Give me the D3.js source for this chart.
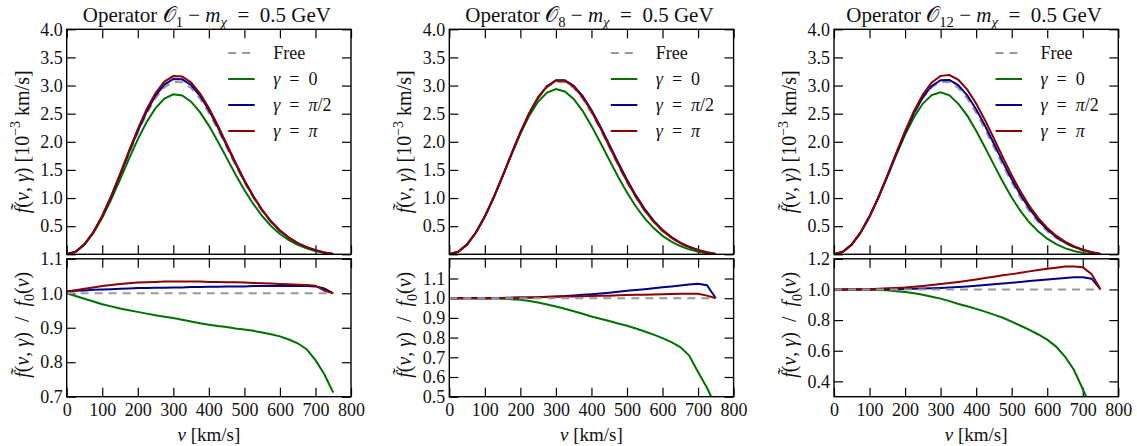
<!DOCTYPE html>
<html>
<head>
<meta charset="utf-8">
<script src="https://cdn.jsdelivr.net/npm/d3@7"></script>
<style>
body { margin: 0; background: #fff; }
</style>
</head>
<body>
<svg id="chart" width="1137" height="446"></svg>
<script>
// velocity grid (km/s)
var velocity = [0, 25, 50, 75, 100, 125, 150, 175, 200, 225, 250, 275, 300, 325, 350, 375,
  400, 425, 450, 475, 500, 525, 550, 575, 600, 625, 650, 675, 700, 725, 750];

// free distribution f0(v) in 10^-3 km/s
var fFree = [0.000, 0.044, 0.175, 0.388, 0.671, 1.011, 1.389, 1.781, 2.160, 2.500, 2.777, 2.969,
  3.065, 3.059, 2.956, 2.769, 2.517, 2.220, 1.901, 1.581, 1.278, 1.005, 0.768, 0.571, 0.412,
  0.290, 0.195, 0.125, 0.072, 0.033, 0.004];

// ratios f(v,gamma)/f0(v), operator O1
var ratioO1Gamma0 = [1.000, 0.992, 0.984, 0.976, 0.968, 0.962, 0.956, 0.951, 0.946, 0.941, 0.936,
  0.932, 0.928, 0.923, 0.918, 0.913, 0.909, 0.905, 0.902, 0.898, 0.895, 0.891, 0.886, 0.881,
  0.875, 0.866, 0.855, 0.838, 0.806, 0.765, 0.712];
var ratioO1GammaHalfPi = [1.005, 1.007, 1.008, 1.010, 1.011, 1.012, 1.013, 1.014, 1.015, 1.015,
  1.016, 1.016, 1.017, 1.017, 1.018, 1.018, 1.019, 1.019, 1.020, 1.020, 1.020, 1.021, 1.021,
  1.021, 1.021, 1.021, 1.021, 1.021, 1.020, 1.014, 1.000];
var ratioO1GammaPi = [1.005, 1.009, 1.013, 1.017, 1.021, 1.024, 1.027, 1.029, 1.031, 1.032, 1.033,
  1.034, 1.034, 1.034, 1.034, 1.034, 1.033, 1.033, 1.032, 1.032, 1.031, 1.030, 1.029, 1.028,
  1.027, 1.026, 1.025, 1.024, 1.022, 1.008, 1.000];

// operator O8
var ratioO8Gamma0 = [1.000, 1.000, 1.000, 1.000, 0.999, 0.998, 0.997, 0.995, 0.992, 0.986, 0.978,
  0.968, 0.958, 0.946, 0.934, 0.921, 0.907, 0.896, 0.884, 0.872, 0.860, 0.846, 0.831, 0.815,
  0.797, 0.777, 0.752, 0.709, 0.625, 0.545, 0.450];
var ratioO8GammaHalfPi = [1.000, 1.000, 1.000, 1.000, 1.000, 1.001, 1.001, 1.002, 1.003, 1.004,
  1.005, 1.007, 1.009, 1.011, 1.014, 1.017, 1.020, 1.024, 1.028, 1.033, 1.038, 1.042, 1.046,
  1.050, 1.055, 1.059, 1.064, 1.069, 1.073, 1.066, 1.000];
var ratioO8GammaPi = [1.000, 1.000, 1.000, 1.000, 1.000, 1.001, 1.001, 1.002, 1.003, 1.004, 1.005,
  1.006, 1.007, 1.008, 1.009, 1.010, 1.011, 1.012, 1.013, 1.015, 1.016, 1.017, 1.018, 1.019,
  1.020, 1.021, 1.022, 1.023, 1.023, 1.013, 1.000];

// operator O12
var ratioO12Gamma0 = [1.000, 1.000, 1.000, 1.000, 0.999, 0.997, 0.994, 0.989, 0.984, 0.975, 0.965,
  0.953, 0.940, 0.924, 0.905, 0.890, 0.873, 0.855, 0.836, 0.815, 0.790, 0.763, 0.736, 0.706,
  0.672, 0.627, 0.561, 0.476, 0.350, 0.220, 0.100];
var ratioO12GammaHalfPi = [1.000, 1.000, 1.000, 1.000, 1.000, 1.001, 1.002, 1.002, 1.003, 1.005,
  1.006, 1.008, 1.010, 1.013, 1.016, 1.020, 1.024, 1.029, 1.034, 1.039, 1.044, 1.049, 1.055,
  1.060, 1.065, 1.070, 1.075, 1.080, 1.080, 1.070, 1.000];
var ratioO12GammaPi = [1.000, 1.000, 1.000, 1.001, 1.002, 1.004, 1.007, 1.010, 1.013, 1.018, 1.023,
  1.029, 1.035, 1.042, 1.049, 1.057, 1.065, 1.074, 1.083, 1.092, 1.100, 1.109, 1.118, 1.127,
  1.135, 1.142, 1.149, 1.150, 1.145, 1.100, 1.000];

// ticks
var xTicks = [0, 100, 200, 300, 400, 500, 600, 700, 800];
var topTicks = [0, 0.5, 1.0, 1.5, 2.0, 2.5, 3.0, 3.5, 4.0];
var ratioTicksO1 = [0.7, 0.8, 0.9, 1.0, 1.1];
var ratioTicksO8 = [0.5, 0.6, 0.7, 0.8, 0.9, 1.0, 1.1];
var ratioTicksO12 = [0.4, 0.6, 0.8, 1.0, 1.2];

var seriesNames = ["Free", "γ = 0", "γ = π/2", "γ = π"];
var seriesColors = ["#999999", "#007000", "#00008b", "#8b0000"];

var panels = [
  {sub: "1", left: 66.7, ratios: [ratioO1Gamma0, ratioO1GammaHalfPi, ratioO1GammaPi], yDom: [0.7, 1.1], yTicks: ratioTicksO1},
  {sub: "8", left: 449.3, ratios: [ratioO8Gamma0, ratioO8GammaHalfPi, ratioO8GammaPi], yDom: [0.5, 1.2], yTicks: ratioTicksO8},
  {sub: "12", left: 834, ratios: [ratioO12Gamma0, ratioO12GammaHalfPi, ratioO12GammaPi], yDom: [0.3, 1.2], yTicks: ratioTicksO12}
];

var FONT = "Liberation Serif";
var EQ = "\u2002=\u2002";   // wide math spacing round "="
var DASH = "8,6";
var svg = d3.select("#chart"),
    pw = 284.3,
    topY0 = 29.3, topY1 = 254.3,
    botY0 = 258.8, botY1 = 396.7,
    tick = 9;

function label(sel, size) {
  return sel.append("text").style("font-family", FONT).style("font-size", size + "px").attr("fill", "#111");
}

// write math-ish text as tspans
function rich(text, parts, size) {
  var shift = 0;
  parts.forEach(function(p) {
    var target = p.sub ? 0.28 * size : (p.sup ? -0.42 * size : 0);
    var ts = text.append("tspan").text(p.t).attr("dy", target - shift);
    shift = target;
    if (p.sub || p.sup) ts.style("font-size", (size * 0.7) + "px");
    if (p.i) ts.style("font-style", "italic");
  });
}

function legendParts(name) {
  if (name === "Free") return [{t: "Free"}];
  var rest = name.split(" = ")[1];
  if (rest === "π") return [{t: "γ", i: true}, {t: EQ}, {t: "π", i: true}];
  if (rest === "π/2") return [{t: "γ", i: true}, {t: EQ}, {t: "π", i: true}, {t: "/2"}];
  return [{t: "γ", i: true}, {t: EQ + rest}];
}

function frame(g, x, y, h, yTickVals, fmt, showX, id) {
  g.append("clipPath").attr("id", id)
    .append("rect").attr("width", pw).attr("height", h);
  // inward ticks on all four sides
  g.append("g").attr("class", "ax").call(d3.axisLeft(y).tickValues(yTickVals).tickSizeInner(-tick).tickSizeOuter(0).tickPadding(4).tickFormat(fmt));
  g.append("g").attr("class", "ax").attr("transform", "translate(" + pw + ",0)")
    .call(d3.axisRight(y).tickValues(yTickVals).tickSizeInner(-tick).tickSizeOuter(0).tickFormat(""));
  g.append("g").attr("class", "ax")
    .call(d3.axisTop(x).tickValues(xTicks).tickSizeInner(-tick).tickSizeOuter(0).tickFormat(""));
  g.append("g").attr("class", "ax").attr("transform", "translate(0," + h + ")")
    .call(d3.axisBottom(x).tickValues(xTicks).tickSizeInner(-tick).tickSizeOuter(0).tickPadding(7)
      .tickFormat(showX ? d3.format("d") : ""));
}

panels.forEach(function(p, k) {
  var x = d3.scaleLinear().domain([0, 800]).range([0, pw]);
  var yTop = d3.scaleLinear().domain([0, 4]).range([topY1 - topY0, 0]);
  var yBot = d3.scaleLinear().domain(p.yDom).range([botY1 - botY0, 0]);

  // table of rows built from the arrays (curve = f0 * ratio, free ratio = 1)
  var rows = velocity.map(function(v, i) {
    return {
      v: v,
      f: [fFree[i], fFree[i] * p.ratios[0][i], fFree[i] * p.ratios[1][i], fFree[i] * p.ratios[2][i]],
      r: [1, p.ratios[0][i], p.ratios[1][i], p.ratios[2][i]]
    };
  });

  // top axes
  var gt = svg.append("g").attr("transform", "translate(" + p.left + "," + topY0 + ")");
  frame(gt, x, yTop, topY1 - topY0, topTicks, function(d) { return d === 0 ? "" : d3.format(".1f")(d); }, false, "ct" + k);
  var lineTop = function(s) {
    return d3.line().x(function(d) { return x(d.v); }).y(function(d) { return yTop(d.f[s]); });
  };
  [0, 1, 2, 3].forEach(function(s) {
    gt.append("path").datum(rows)
      .attr("clip-path", "url(#ct" + k + ")")
      .attr("d", lineTop(s))
      .attr("fill", "none")
      .attr("stroke", seriesColors[s])
      .attr("stroke-width", 2)
      .attr("stroke-dasharray", s === 0 ? DASH : null);
  });

  // legend
  seriesNames.forEach(function(name, s) {
    var ly = 53 + s * 26 - topY0;
    gt.append("line").attr("x1", 161.5).attr("x2", 188).attr("y1", ly).attr("y2", ly)
      .attr("stroke", seriesColors[s]).attr("stroke-width", 2)
      .attr("stroke-dasharray", s === 0 ? DASH : null);
    var t = label(gt, 18).attr("x", 206.5).attr("y", ly + 6);
    rich(t, legendParts(name), 18);
  });

  // title
  var tt = label(svg, 21).attr("x", p.left + pw / 2 - 2).attr("y", 21.5).attr("text-anchor", "middle");
  rich(tt, [{t: "Operator "}, {t: "𝒪"}, {t: p.sub, sub: true}, {t: " − "}, {t: "m", i: true},
    {t: "χ", i: true, sub: true}, {t: EQ + "0.5 GeV"}], 21);

  // top y label
  var yl = label(svg, 20)
    .attr("transform", "translate(" + (p.left - 38) + "," + ((topY0 + topY1) / 2) + ") rotate(-90)")
    .attr("text-anchor", "middle");
  rich(yl, [{t: "f̃", i: true}, {t: "("}, {t: "v", i: true}, {t: ", "}, {t: "γ", i: true},
    {t: ") [10"}, {t: "−3", sup: true}, {t: " km/s]"}], 20);

  // bottom axes
  var gb = svg.append("g").attr("transform", "translate(" + p.left + "," + botY0 + ")");
  frame(gb, x, yBot, botY1 - botY0, p.yTicks, d3.format(".1f"), true, "cb" + k);
  var lineBot = function(s) {
    return d3.line().x(function(d) { return x(d.v); }).y(function(d) { return yBot(d.r[s]); });
  };
  [1, 2, 3, 0].forEach(function(s) {
    gb.append("path").datum(rows)
      .attr("clip-path", "url(#cb" + k + ")")
      .attr("d", lineBot(s))
      .attr("fill", "none")
      .attr("stroke", seriesColors[s])
      .attr("stroke-width", 2)
      .attr("stroke-dasharray", s === 0 ? DASH : null);
  });

  var bl = label(svg, 20)
    .attr("transform", "translate(" + (p.left - 38) + "," + ((botY0 + botY1) / 2 - 3) + ") rotate(-90)")
    .attr("text-anchor", "middle");
  rich(bl, [{t: "f̃", i: true}, {t: "("}, {t: "v", i: true}, {t: ", "}, {t: "γ", i: true},
    {t: ")\u2002/\u2002"}, {t: "f", i: true}, {t: "0", sub: true}, {t: "("}, {t: "v", i: true}, {t: ")"}], 20);

  // x label
  var xl = label(svg, 19).attr("x", p.left + pw / 2).attr("y", 441).attr("text-anchor", "middle");
  rich(xl, [{t: "v", i: true}, {t: " [km/s]"}], 19);

  // spines
  [gt, gb].forEach(function(g, j) {
    g.append("rect").attr("width", pw).attr("height", j === 0 ? topY1 - topY0 : botY1 - botY0)
      .attr("fill", "none").attr("stroke", "#000").attr("stroke-width", 1.4);
  });
});

svg.selectAll(".ax .domain").remove();
svg.selectAll(".ax line").attr("stroke", "#000").attr("stroke-width", 1.2);
svg.selectAll(".ax text").style("font-size", "18px").style("font-family", FONT).attr("fill", "#111");
</script>
</body>
</html>
